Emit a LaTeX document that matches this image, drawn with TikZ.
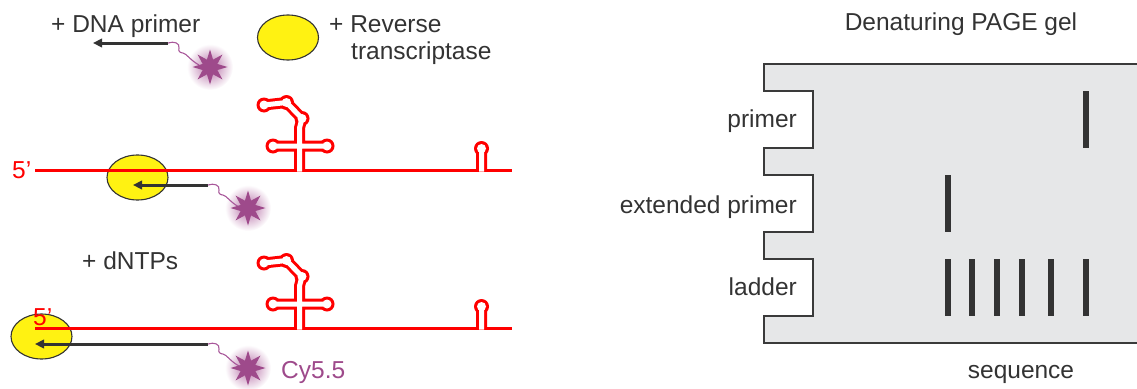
\documentclass[tikz,border=0pt]{standalone}
\usepackage{fontspec}
\setmainfont{Liberation Sans}
\usetikzlibrary{arrows.meta,shapes.geometric}
\definecolor{ink}{HTML}{333333}
\definecolor{rnared}{HTML}{FF0000}
\definecolor{rtyellow}{HTML}{FFF212}
\definecolor{dye}{HTML}{9E4A8B}
\definecolor{dyelink}{HTML}{A8579A}
\definecolor{glow}{HTML}{B66FA6}
\definecolor{gelfill}{HTML}{E6E7E8}
\definecolor{gelline}{HTML}{3A3A3A}

\tikzset{
  % RNA strand with the branched hairpin and the small 3' hairpin,
  % drawn as a red tube (wide red stroke, narrower white stroke inside)
  pics/rnastrand/.style={code={
    \draw[rnaline] (35,0) -- (512,0);
    \foreach \tw/\cr/\col in {11/7.5/rnared, 5/4.5/white}{
      \draw[draw=\col, line width=\tw pt, line join=round]
        (299.5,1.6) -- (299.5,-42) -- (302,-51.5) -- (286.5,-67.5) -- (264,-65)
        (273,-24) -- (327,-24)
        (481.5,1.6) -- (481.5,-21.5);
      \fill[\col] (273,-24) circle (\cr) (327,-24) circle (\cr)
        (302,-51.5) circle (\cr) (286.5,-67.5) circle (\cr)
        (264,-65) circle (\cr) (481.5,-21.5) circle (\cr);
    }
  }},
  % flexible linker between primer end and the Cy5.5 dye
  pics/dyelinker/.style={code={
    \draw[linkerline] (0,0) .. controls (6,-2) and (12,0) .. (11,5)
      .. controls (10,8) and (12,10) .. (15,10)
      .. controls (19,11) and (22,17) .. (31,22);
  }}
}

\begin{document}
\begin{tikzpicture}[x=1pt,y=-1pt,
  txt/.style={text=ink, font=\fontsize{24.5}{27.5}\selectfont, inner sep=0pt},
  redtxt/.style={txt, text=rnared},
  dyetxt/.style={txt, text=dye},
  rtase/.style={ellipse, draw=ink, line width=1.1pt, fill=rtyellow, inner sep=0pt,
    minimum width=61pt, minimum height=45pt},
  primerarrow/.style={draw=ink, line width=3pt, -{Triangle[length=9pt,width=8.5pt]}},
  dyestar/.style={star, star points=8, star point ratio=2.2, minimum size=35pt,
    inner sep=0pt, fill=dye},
  linkerline/.style={draw=dyelink, line width=1.1pt},
  rnaline/.style={draw=rnared, line width=3pt},
  gel/.style={draw=gelline, fill=gelfill, line width=2.5pt, line join=miter},
  band/.style={draw=ink, line width=6pt}
]
\useasboundingbox (0,0) rectangle (1137,388);

% ---------- left: reverse transcription scheme ----------
% dye glow positions
\coordinate (g0) at (210,67);
\coordinate (g1) at (248,208);
\coordinate (g2) at (248,368);
\foreach \g in {g0,g1,g2}{
  \shade[inner color=glow, outer color=white] (\g) circle (23);
}

% row 1: reagents
\node[txt, anchor=base west] (lblprimer) at (51,32) {+ DNA primer};
\node[rtase] (rt0) at (288,37.5) {};
\node[txt, anchor=base west] (lblrt1) at (329,32) {+ Reverse};
\node[txt, anchor=base west] (lblrt2) at (351,59.5) {transcriptase};
\coordinate (p0tail) at (168,43);
\coordinate (p0tip) at (93,43);
\draw[primerarrow] (p0tail) -- (p0tip);
\pic at (p0tail) {dyelinker};
\node[dyestar] (dye0) at (g0) {};

% row 2: primer annealed, enzyme bound
\node[rtase] (rt1) at (137.5,177.5) {};
\pic at (0,170) {rnastrand};
\node[redtxt, anchor=base west] (five1) at (12,178) {5’};
\coordinate (p1tail) at (208,185);
\coordinate (p1tip) at (133,185);
\draw[primerarrow] (p1tail) -- (p1tip);
\pic at (p1tail) {dyelinker};
\node[dyestar] (dye1) at (g1) {};

% row 3: extension with dNTPs
\node[txt, anchor=base west] (lbldntp) at (82,269) {+ dNTPs};
\node[rtase] (rt2) at (41.5,336.5) {};
\pic at (0,328) {rnastrand};
\node[redtxt, anchor=base west] (five2) at (33,325) {5’};
\coordinate (p2tail) at (208,344);
\coordinate (p2tip) at (35,344);
\draw[primerarrow] (p2tail) -- (p2tip);
\pic at (p2tail) {dyelinker};
\node[dyestar] (dye2) at (g2) {};
\node[dyetxt, anchor=base west] (cy) at (281,378) {Cy5.5};

% ---------- right: denaturing PAGE gel ----------
\node[txt, anchor=base] (geltitle) at (961,30) {Denaturing PAGE gel};
\path[gel] (1150,64) -- (764,64) -- (764,91) -- (813,91) -- (813,148) -- (764,148)
  -- (764,175) -- (813,175) -- (813,232) -- (764,232)
  -- (764,259) -- (813,259) -- (813,316) -- (764,316) -- (764,343) -- (1150,343);

\node[txt, anchor=base east] (lane1) at (797,127) {primer};
\node[txt, anchor=base east] (lane2) at (797,213) {extended primer};
\node[txt, anchor=base east] (lane3) at (797,295) {ladder};
\node[txt, anchor=base] (seq) at (1021,378) {sequence};

% bands
\draw[band] (1086,91) -- (1086,148);
\draw[band] (948,175) -- (948,232);
\foreach \bx in {948,972,997,1022,1051,1086}{
  \draw[band] (\bx,259) -- (\bx,316);
}
\end{tikzpicture}
\end{document}
